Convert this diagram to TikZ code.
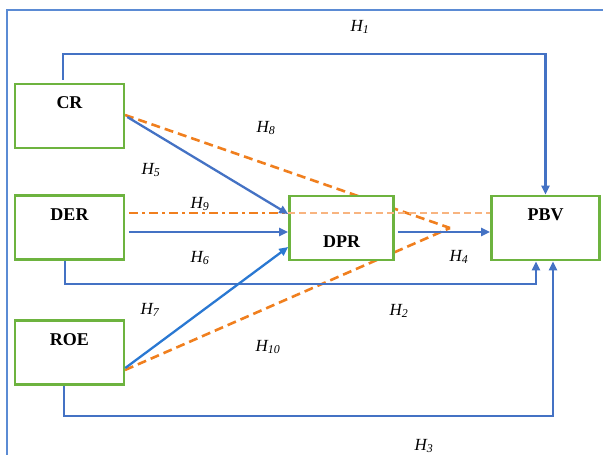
\documentclass[tikz,border=0pt]{standalone}
\usepackage{fontspec}
\setmainfont{Liberation Serif}
\usetikzlibrary{arrows.meta,positioning}

\definecolor{hblue}{HTML}{4472C4}
\definecolor{hbright}{HTML}{2A78D2}
\definecolor{hgreen}{HTML}{6DB33F}
\definecolor{horange}{HTML}{F07F1E}
\definecolor{hlight}{HTML}{F8B480}
\definecolor{hframe}{HTML}{5B8BD4}

\newcommand{\hyp}[1]{\textit{H\textsubscript{#1}}}

\tikzset{
  var/.style={draw=hgreen, line width=2.6pt, fill=white, inner sep=0pt,
    minimum width=109pt, minimum height=64pt},
  varname/.style={font=\bfseries\fontsize{18}{18}\selectfont},
  hyplabel/.style={font=\fontsize{17}{17}\selectfont},
  link/.style={draw=hblue, line width=2.3pt, -{Triangle[length=9pt,width=8pt]}},
  mediate/.style={draw=horange, line width=2.6pt, dash pattern=on 9pt off 5pt},
}

\begin{document}
\begin{tikzpicture}[x=1pt, y=-1pt]
  \useasboundingbox (0,0) rectangle (603,455);
  \clip (0,0) rectangle (603,455);
  \draw[hframe, line width=1.8pt] (7,10) rectangle (640,480);

  \coordinate (apex) at (450,228);

  % mediation paths behind the boxes
  \draw[mediate] (125,115) -- (apex);
  \draw[mediate] (125,370) -- (apex);

  % variables
  \node[var] (CR)  at (69.5,116)  {};
  \node[var] (DER) at (69.5,227.5) {};
  \node[var] (ROE) at (69.5,352.5) {};
  \node[var, minimum width=104pt] (DPR) at (341.5,228) {};
  \node[var, minimum width=108pt] (PBV) at (545.5,228) {};

  \node[varname] (CRname)  at ([yshift=-20pt]CR.north)  {CR};
  \node[varname] (DERname) at ([yshift=-20pt]DER.north) {DER};
  \node[varname] (ROEname) at ([yshift=-20pt]ROE.north) {ROE};
  \node[varname] (DPRname) at ([yshift=-14pt]DPR.center) {DPR};
  \node[varname] (PBVname) at ([yshift=-20pt]PBV.north) {PBV};

  % H9
  \draw[horange, line width=2.6pt, dash pattern=on 9pt off 4pt on 3pt off 4pt]
    ([xshift=4pt,yshift=14.5pt]DER.east) -- ([yshift=15pt]DPR.west);
  \draw[hlight, line width=2.2pt, dash pattern=on 7pt off 4pt]
    ([yshift=15pt]DPR.west) -- ([yshift=15pt]PBV.west);

  % direct paths
  \draw[link] ([xshift=-6.5pt,yshift=3pt]CR.north) -- ++(0,-26) -| (PBV.north);
  \draw[link] ([xshift=-4.5pt]DER.south) -- ++(0,23) -| ([xshift=-9.5pt]PBV.south);
  \draw[link] ([xshift=-5.5pt]ROE.south) -- ++(0,30) -| ([xshift=7.5pt]PBV.south);
  \draw[link] ([xshift=3pt,yshift=-4pt]DPR.east) -- ([yshift=-4pt]PBV.west);
  \draw[link] ([xshift=2pt,yshift=-1pt]CR.east) -- ([yshift=14pt]DPR.west);
  \draw[link] ([xshift=4pt,yshift=-4.5pt]DER.east) -- ([yshift=-4pt]DPR.west);
  \draw[link, draw=hbright] ([yshift=-15.5pt]ROE.east) -- ([yshift=-19pt]DPR.west);

  % hypothesis labels
  \node[hyplabel] (h1)  at (360,27)  {\hyp{1}};
  \node[hyplabel] (h2)  at (399,311) {\hyp{2}};
  \node[hyplabel] (h3)  at (424,446) {\hyp{3}};
  \node[hyplabel] (h4)  at (459,257) {\hyp{4}};
  \node[hyplabel] (h5)  at (151,170) {\hyp{5}};
  \node[hyplabel] (h6)  at (200,258) {\hyp{6}};
  \node[hyplabel] (h7)  at (150,310) {\hyp{7}};
  \node[hyplabel] (h8)  at (266,128) {\hyp{8}};
  \node[hyplabel] (h9)  at (200,204) {\hyp{9}};
  \node[hyplabel] (h10) at (268,347) {\hyp{10}};
\end{tikzpicture}
\end{document}
